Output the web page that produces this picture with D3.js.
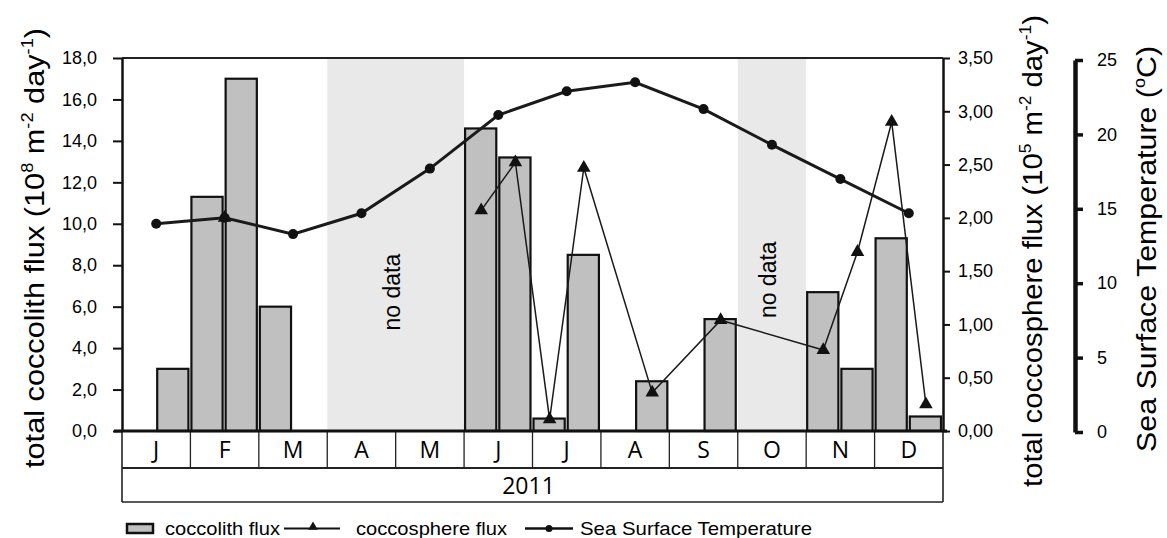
<!DOCTYPE html>
<html><head><meta charset="utf-8">
<script src="https://cdn.jsdelivr.net/npm/d3@7"></script>
<style>
body{margin:0;background:#fff}
svg{display:block}
text{font-family:"Liberation Sans",Arial,sans-serif;fill:#000}
</style>
</head><body>
<svg id="chart" width="1167" height="538"></svg>
<script>
// ---- data ----
const months = ["J","F","M","A","M","J","J","A","S","O","N","D"];
const yearLabel = "2011";
// coccolith flux per half-month slot (10^8 m-2 day-1); null = no sample
const coccolithFlux = [null,3.0, 11.3,17.0, 6.0,null, null,null, null,null, 14.6,13.2,
                       0.6,8.5, null,2.4, null,5.4, null,null, 6.7,3.0, 9.3,0.7];
// coccosphere flux (10^5 m-2 day-1) and sample position in months from 1 January
const coccospherePos  = [1.5, 4, 5.25, 5.75, 6.25, 6.75, 7.75, 8.75, 10.25, 10.75, 11.25, 11.75];
const coccosphereFlux = [2.0, null, 2.07, 2.52, 0.11, 2.47, 0.36, 1.04, 0.76, 1.68, 2.9, 0.25];
// monthly sea surface temperature (°C)
const sst = [14.0,14.4,13.3,14.7,17.7,21.3,22.9,23.5,21.7,19.3,17.0,14.7];
// periods without sediment trap data [start month, end month]
const noDataSpans = [[3,5],[9,10]];
const leftTicks  = [0,2,4,6,8,10,12,14,16,18];
const rightTicks = [0,0.5,1,1.5,2,2.5,3,3.5];
const sstTicks   = [0,5,10,15,20,25];

// ---- layout ----
const L = 122, R = 943, T = 58, B = 431;
const svg = d3.select("#chart");
const x  = d3.scaleLinear().domain([0,12]).range([L,R]);
const yL = d3.scaleLinear().domain([0,18]).range([B,T]);
const yR = d3.scaleLinear().domain([0,3.5]).range([B,T]);
const yT = d3.scaleLinear().domain([0,25]).range([432,60]);
const comma = f => d => d3.format(f)(d).replace(".", ",");
const ink = "#111";

// no-data shading
svg.append("g").selectAll("rect").data(noDataSpans).join("rect")
  .attr("x", d => x(d[0])).attr("y", T)
  .attr("width", d => x(d[1]) - x(d[0])).attr("height", B - T)
  .attr("fill", "#e9e9e9");
const noDataY = [6.7, 7.3];
svg.append("g").selectAll("text").data(noDataSpans).join("text")
  .attr("transform", (d,i) => `translate(${(x(d[0])+x(d[1]))/2 + 4},${yL(noDataY[i])}) rotate(-90)`)
  .attr("text-anchor","middle").attr("font-size",23).text("no data");

// coccolith bars
const half = (x(1) - x(0)) / 2;
svg.append("g").selectAll("rect")
  .data(coccolithFlux.map((v,i) => ({v,i})).filter(d => d.v != null)).join("rect")
  .attr("x", d => x(d.i/2) + 1).attr("width", half - 3)
  .attr("y", d => yL(d.v)).attr("height", d => B - yL(d.v))
  .attr("fill", "#c0c0c0").attr("stroke", ink).attr("stroke-width", 2.2);

// top border
svg.append("line").attr("x1", L).attr("x2", R).attr("y1", T).attr("y2", T)
  .attr("stroke", "#222").attr("stroke-width", 1.8);

// left axis
const gL = svg.append("g").attr("transform", `translate(${L},0)`)
  .call(d3.axisLeft(yL).tickValues(leftTicks).tickFormat(comma(".1f"))
        .tickSize(9).tickSizeOuter(0).tickPadding(16));
// right axis
const gR = svg.append("g").attr("transform", `translate(${R},0)`)
  .call(d3.axisRight(yR).tickValues(rightTicks).tickFormat(comma(".2f"))
        .tickSize(7).tickSizeOuter(0).tickPadding(8));
// temperature axis
const gT = svg.append("g").attr("transform", "translate(1075,0)")
  .call(d3.axisRight(yT).tickValues(sstTicks).tickFormat(d3.format("d"))
        .tickSize(8).tickSizeOuter(0).tickPadding(14));
[gL, gR].forEach(g => {
  g.select(".domain").attr("stroke", ink).attr("stroke-width", 2.5);
  g.selectAll(".tick line").attr("stroke", ink).attr("stroke-width", 2);
});
gT.select(".domain").attr("stroke", ink).attr("stroke-width", 4.5);
gT.selectAll(".tick line").attr("stroke", ink).attr("stroke-width", 3.5);
[gL, gR, gT].forEach(g => g.selectAll(".tick text")
  .attr("font-size", 18).attr("font-family", '"Liberation Sans",Arial,sans-serif').attr("fill", "#000"));

// month / year table below the plot
const tbl = svg.append("g");
tbl.append("line").attr("x1", L).attr("x2", L).attr("y1", B).attr("y2", 502).attr("stroke", "#222").attr("stroke-width", 1.6);
tbl.append("line").attr("x1", R).attr("x2", R).attr("y1", B).attr("y2", 502).attr("stroke", "#222").attr("stroke-width", 1.6);
tbl.append("line").attr("x1", L).attr("x2", R).attr("y1", 468).attr("y2", 468).attr("stroke", "#222").attr("stroke-width", 2);
tbl.append("line").attr("x1", L).attr("x2", R).attr("y1", 502).attr("y2", 502).attr("stroke", "#222").attr("stroke-width", 1.5);
tbl.selectAll(".sep").data(d3.range(1, 12)).join("line").attr("class","sep")
  .attr("x1", d => x(d)).attr("x2", d => x(d)).attr("y1", B).attr("y2", 468)
  .attr("stroke", "#222").attr("stroke-width", 1.3);
tbl.selectAll(".mon").data(months).join("text").attr("class","mon")
  .attr("x", (d,i) => x(i + 0.5)).attr("y", 458)
  .attr("text-anchor","middle").attr("font-size", 23)
  .style("font-family", '"Open Sans",sans-serif').text(d => d);
tbl.append("text").attr("x", (L + R)/2 - 4).attr("y", 494)
  .attr("text-anchor","middle").attr("font-size", 23)
  .style("font-family", '"Open Sans",sans-serif').text(yearLabel);
// x axis baseline
svg.append("line").attr("x1", L - 8).attr("x2", R + 4).attr("y1", B).attr("y2", B)
  .attr("stroke", ink).attr("stroke-width", 3);

// sea surface temperature line
svg.append("path").datum(sst)
  .attr("d", d3.line().x((d,i) => x(i + 0.5)).y(d => yT(d)))
  .attr("fill","none").attr("stroke", "#1a1a1a").attr("stroke-width", 3);
svg.append("g").selectAll("circle").data(sst).join("circle")
  .attr("cx", (d,i) => x(i + 0.5)).attr("cy", d => yT(d)).attr("r", 5).attr("fill", ink);

// coccosphere flux line
const cocc = coccospherePos.map((p,i) => ({p, v: coccosphereFlux[i]}));
svg.append("path").datum(cocc)
  .attr("d", d3.line().defined(d => d.v != null).x(d => x(d.p)).y(d => yR(d.v)))
  .attr("fill","none").attr("stroke", "#1a1a1a").attr("stroke-width", 1.5);
const tri = d3.symbol().type(d3.symbolTriangle).size(80);
svg.append("g").selectAll("path").data(cocc.filter(d => d.v != null)).join("path")
  .attr("transform", d => `translate(${x(d.p)},${yR(d.v)})`)
  .attr("d", tri).attr("fill", ink);

// axis titles
function title(xp, yp, len, parts) {
  const t = svg.append("text").attr("transform", `translate(${xp},${yp}) rotate(-90)`)
    .attr("text-anchor","middle").attr("font-size", 27)
    .attr("textLength", len).attr("lengthAdjust", "spacingAndGlyphs");
  parts.forEach(([s, sup]) => {
    const ts = t.append("tspan").text(s);
    if (sup) ts.attr("font-size", 16).attr("dy", -11);
    else ts.attr("dy", t.node().childNodes.length > 1 ? 11 : 0);
  });
  // reset dy only after superscripts
  t.selectAll("tspan").each(function(d, i, nodes) {
    const prevSup = i > 0 && d3.select(nodes[i-1]).attr("font-size") === "16";
    const isSup = d3.select(this).attr("font-size") === "16";
    d3.select(this).attr("dy", isSup ? -11 : (prevSup ? 11 : 0));
  });
}
title(44, 248, 440, [["total coccolith flux (10"],["8",1],[" m"],["-2",1],[" day"],["-1",1],[")"]]);
title(1042, 251, 472, [["total coccosphere flux (10"],["5",1],[" m"],["-2",1],[" day"],["-1",1],[")"]]);
title(1156, 249, 406, [["Sea Surface Temperature ("],["o",1],["C)"]]);

// legend
const lg = svg.append("g");
lg.append("rect").attr("x", 127).attr("y", 524).attr("width", 26).attr("height", 9)
  .attr("fill", "#c0c0c0").attr("stroke", ink).attr("stroke-width", 2.5);
lg.append("text").attr("x", 165).attr("y", 535).attr("font-size", 19)
  .attr("textLength", 115).attr("lengthAdjust","spacingAndGlyphs").text("coccolith flux");
lg.append("line").attr("x1", 284).attr("x2", 340).attr("y1", 528.5).attr("y2", 528.5).attr("stroke", ink).attr("stroke-width", 2);
lg.append("path").attr("transform", "translate(313,527)").attr("d", d3.symbol().type(d3.symbolTriangle).size(40)).attr("fill", ink);
lg.append("text").attr("x", 356).attr("y", 535).attr("font-size", 19)
  .attr("textLength", 151).attr("lengthAdjust","spacingAndGlyphs").text("coccosphere flux");
lg.append("line").attr("x1", 525).attr("x2", 573).attr("y1", 528.5).attr("y2", 528.5).attr("stroke", ink).attr("stroke-width", 2.5);
lg.append("circle").attr("cx", 549).attr("cy", 528.5).attr("r", 3.5).attr("fill", ink);
lg.append("text").attr("x", 580).attr("y", 535).attr("font-size", 19)
  .attr("textLength", 232).attr("lengthAdjust","spacingAndGlyphs").text("Sea Surface Temperature");
</script>
</body></html>
